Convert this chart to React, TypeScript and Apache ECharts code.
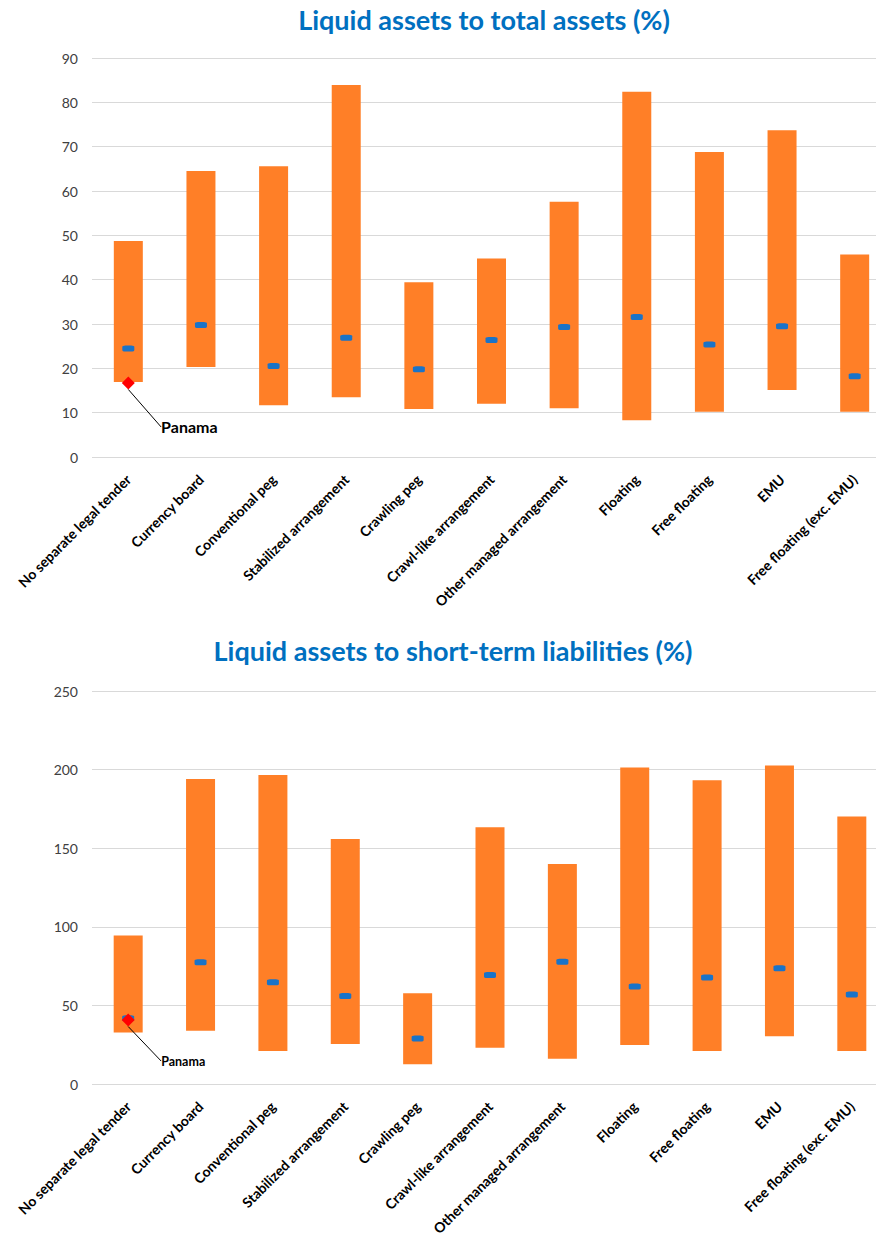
import React, { useEffect, useRef } from "react";
import * as echarts from "echarts";

const categories = [
  "No separate legal tender",
  "Currency board",
  "Conventional peg",
  "Stabilized arrangement",
  "Crawling peg",
  "Crawl-like arrangement",
  "Other managed arrangement",
  "Floating",
  "Free floating",
  "EMU",
  "Free floating (exc. EMU)",
];

const topTitle = "Liquid assets to total assets (%)";
const topMin = [16.9, 20.3, 11.7, 13.5, 10.8, 12.0, 11.0, 8.3, 10.2, 15.1, 10.2];
const topMax = [48.7, 64.5, 65.6, 83.9, 39.4, 44.8, 57.6, 82.4, 68.8, 73.7, 45.7];
const topMean = [24.5, 29.8, 20.5, 26.9, 19.8, 26.4, 29.3, 31.6, 25.4, 29.5, 18.2];
const topPanama = 16.7;

const botTitle = "Liquid assets to short-term liabilities (%)";
const botMin = [32.7, 33.9, 21.0, 25.5, 12.5, 23.1, 16.1, 24.8, 21.0, 30.4, 21.0];
const botMax = [94.4, 194.0, 196.5, 155.8, 57.7, 163.4, 140.0, 201.4, 193.3, 202.6, 170.2];
const botMean = [41.8, 77.5, 64.7, 56.0, 29.0, 69.4, 77.7, 62.0, 67.7, 73.6, 56.9];
const botPanama = 40.7;

const FONT = "Lato";
const ORANGE = "#FF7F27";
const BLUE = "#1A73C8";

function seriesFor(idx: number, mins: number[], maxs: number[], means: number[], panama: number, labelSize: number, dx: number, dy: number) {
  const stack = "s" + idx;
  return [
    {
      type: "bar",
      xAxisIndex: idx,
      yAxisIndex: idx,
      stack,
      data: mins,
      barWidth: 29,
      itemStyle: { color: "transparent" },
      silent: true,
    },
    {
      type: "bar",
      xAxisIndex: idx,
      yAxisIndex: idx,
      stack,
      data: maxs.map((m, i) => +(m - mins[i]).toFixed(2)),
      barWidth: 29,
      itemStyle: { color: ORANGE },
    },
    {
      type: "scatter",
      xAxisIndex: idx,
      yAxisIndex: idx,
      data: means,
      symbol: "roundRect",
      symbolSize: [12, 6],
      itemStyle: { color: BLUE, opacity: 1 },
      z: 3,
    },
    {
      type: "scatter",
      xAxisIndex: idx,
      yAxisIndex: idx,
      data: [[0, panama]],
      symbol: "diamond",
      symbolSize: 13,
      itemStyle: { color: "#FF0000", opacity: 1 },
      z: 4,
      label: {
        show: true,
        formatter: "Panama",
        fontFamily: FONT,
        fontWeight: "bold",
        fontSize: labelSize,
        color: "#000",
        position: "inside",
      },
      labelLayout: { dx, dy },
      labelLine: { show: true, lineStyle: { color: "#000", width: 1 } },
    },
  ];
}

function axesFor(idx: number, max: number, interval: number) {
  const x = {
    type: "category",
    gridIndex: idx,
    data: categories,
    axisLine: { show: false },
    axisTick: { show: false },
    axisLabel: {
      rotate: 45,
      interval: 0,
      margin: 20,
      fontFamily: FONT,
      fontWeight: "bold",
      fontSize: 14,
      color: "#000",
    },
  };
  const y = {
    type: "value",
    gridIndex: idx,
    min: 0,
    max,
    interval,
    axisLine: { show: false },
    axisTick: { show: false },
    splitLine: { lineStyle: { color: "#D9D9D9", width: 1 } },
    axisLabel: { fontFamily: FONT, fontSize: 14, color: "#404040", margin: 14 },
  };
  return { x, y };
}

export default function App() {
  const ref = useRef<HTMLDivElement>(null);
  useEffect(() => {
    document.body.style.margin = "0";
    document.body.style.overflow = "hidden";
    const chart = echarts.init(ref.current!, null, { renderer: "svg" });
    const a0 = axesFor(0, 90, 10);
    const a1 = axesFor(1, 250, 50);
    chart.setOption({
      animation: false,
      backgroundColor: "#fff",
      title: [
        {
          text: topTitle,
          left: 479,
          top: 1,
          textAlign: "center",
          textStyle: { fontFamily: FONT, fontWeight: "bold", fontSize: 27, color: "#0070C0" },
        },
        {
          text: botTitle,
          left: 448,
          top: 632,
          textAlign: "center",
          textStyle: { fontFamily: FONT, fontWeight: "bold", fontSize: 27, color: "#0070C0" },
        },
      ],
      grid: [
        { left: 92, top: 58, right: 0, height: 399 },
        { left: 92, top: 691, right: 3, height: 393 },
      ],
      xAxis: [a0.x, a1.x],
      yAxis: [a0.y, a1.y],
      series: [
        ...seriesFor(0, topMin, topMax, topMean, topPanama, 16, 61, 44),
        ...seriesFor(1, botMin, botMax, botMean, botPanama, 12.5, 55, 41),
      ],
    });
    return () => chart.dispose();
  }, []);
  return (
    <div style={{ width: 876, height: 1247, overflow: "hidden", position: "relative" }}>
      <div ref={ref} style={{ width: 891, height: 1247 }} />
    </div>
  );
}
